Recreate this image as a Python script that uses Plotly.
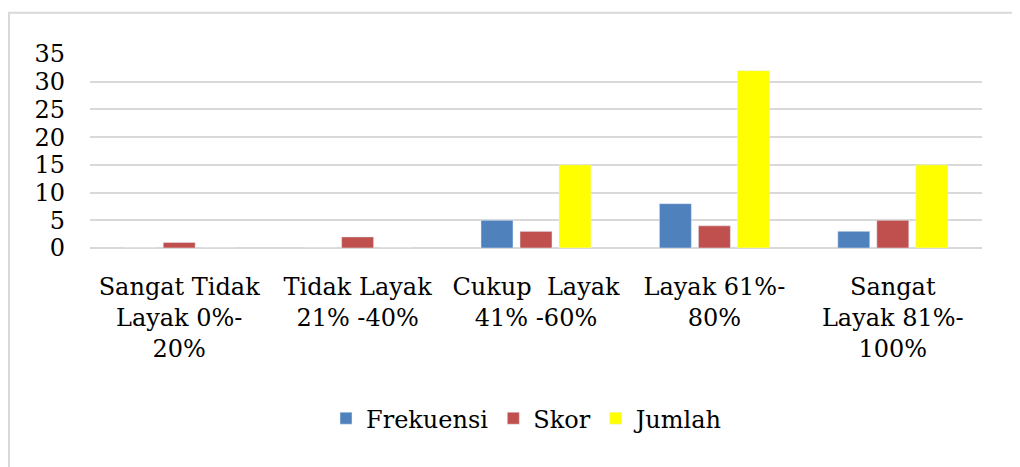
import plotly.graph_objects as go

categories = [
    "Sangat Tidak<br>Layak 0%-<br>20%",
    "Tidak Layak<br>21% -40%",
    "Cukup  Layak<br>41% -60%",
    "Layak 61%-<br>80%",
    "Sangat<br>Layak 81%-<br>100%",
]
frekuensi = [0, 0, 5, 8, 3]
skor = [1, 2, 3, 4, 5]
jumlah = [0, 0, 15, 32, 15]
y_ticks = [0, 5, 10, 15, 20, 25, 30, 35]

FONT = "DejaVu Serif"
OFF = 8  # page offset of the figure inside the window
W, H = 1020 - OFF, 467 - OFF
L, R, T, B = 90 - OFF, 982 - OFF, 53.5 - OFF, 248.5 - OFF

fig = go.Figure()
fig.add_trace(go.Bar(name="Frekuensi", x=categories, y=frekuensi, marker_color="#4f81bd"))
fig.add_trace(go.Bar(name="Skor", x=categories, y=skor, marker_color="#c0504d"))
fig.add_trace(go.Bar(name="Jumlah", x=categories, y=jumlah, marker_color="#ffff00"))

def px_x(p):
    return (p - OFF - L) / (R - L)

def px_y(p):
    return (B - (p - OFF)) / (B - T)

fig.update_layout(
    width=W, height=H,
    margin=dict(l=L, r=W - R, t=T, b=H - B, pad=0),
    paper_bgcolor="white", plot_bgcolor="white",
    barmode="group", bargap=0.344, bargroupgap=0.18,
    font=dict(family=FONT, size=24, color="#000000"),
    legend=dict(orientation="h", xanchor="center", x=px_x(528), yanchor="middle", y=px_y(420),
                font=dict(family=FONT, size=24, color="#000000"), itemclick=False),
    shapes=[dict(type="rect", xref="paper", yref="paper",
                 x0=px_x(9), x1=px_x(1040), y0=px_y(490), y1=px_y(12),
                 line=dict(color="#d9d9d9", width=2), fillcolor="rgba(0,0,0,0)", layer="below")],
)
fig.update_xaxes(showgrid=False, showline=False, ticks="", tickangle=0,
                 ticklabelstandoff=22, tickfont=dict(family=FONT, size=24, color="#000000"))
fig.update_yaxes(range=[0, 35], tickvals=y_ticks, showgrid=True, gridcolor="#d9d9d9", gridwidth=2,
                 zeroline=True, zerolinecolor="#d9d9d9", zerolinewidth=2, showline=False, ticks="",
                 ticklabelstandoff=24, tickfont=dict(family=FONT, size=24, color="#000000"))

fig.write_html("out.html")
